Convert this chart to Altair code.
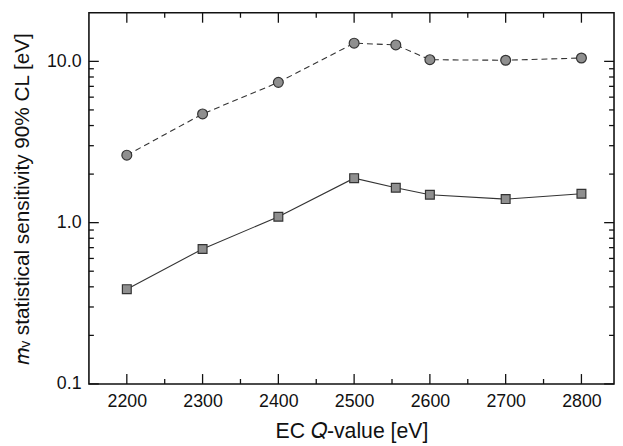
import altair as alt
import pandas as pd

# Data
q_values = [2200, 2300, 2400, 2500, 2555, 2600, 2700, 2800]
circle_series = [2.62, 4.72, 7.41, 12.97, 12.65, 10.24, 10.16, 10.49]
square_series = [0.387, 0.687, 1.088, 1.887, 1.647, 1.49, 1.40, 1.51]

x_major = [2200, 2300, 2400, 2500, 2600, 2700, 2800]
x_minor = [2250, 2350, 2450, 2550, 2650, 2750]
y_major = [0.1, 1.0, 10.0]
y_minor = [0.2, 0.3, 0.4, 0.5, 0.6, 0.7, 0.8, 0.9, 2, 3, 4, 5, 6, 7, 8, 9]

W, H = 532, 376
FONT = "Liberation Sans"
INK = "#333333"

df = pd.DataFrame({"q": q_values, "circ": circle_series, "sq": square_series})
xmaj = pd.DataFrame({"xv": x_major})
xmin = pd.DataFrame({"xv": x_minor})
ymaj = pd.DataFrame({"yv": y_major})
ymin = pd.DataFrame({"yv": y_minor})

xscale = alt.Scale(domain=[2150, 2843], nice=False, zero=False)
yscale = alt.Scale(type="log", domain=[0.1, 20], nice=False)

XT = "EC 𝑄-value [eV]"
YT = "𝑚ᵥ statistical sensitivity 90% CL [eV]"

xaxis = alt.Axis(values=x_major, ticks=False, domain=False, grid=False,
                 labelPadding=9, title=XT, titlePadding=10, format="d",
                 titleFontSize=21.5)
yaxis = alt.Axis(values=y_major, ticks=False, domain=False, grid=False,
                 format=".1f", labelPadding=8, title=YT, titlePadding=14,
                 titleFontSize=21)

X = lambda f: alt.X(f, type="quantitative", scale=xscale, axis=xaxis, title=XT)
Y = lambda f: alt.Y(f, type="quantitative", scale=yscale, axis=yaxis, title=YT)

base = alt.Chart(df)

circ_line = base.mark_line(color=INK, strokeWidth=1.1, strokeDash=[6, 4]).encode(
    x=X("q"), y=Y("circ"))
circ_pts = base.mark_point(shape="circle", filled=True, size=100, fill="#8f8f8f",
                           stroke=INK, strokeWidth=1.2, opacity=1).encode(
    x=X("q"), y=Y("circ"))
sq_line = base.mark_line(color=INK, strokeWidth=1.1).encode(x=X("q"), y=Y("sq"))
sq_pts = base.mark_point(shape="square", filled=True, size=80, fill="#8f8f8f",
                         stroke=INK, strokeWidth=1.2, opacity=1).encode(
    x=X("q"), y=Y("sq"))

tick_style = dict(color="#111111", strokeWidth=1.3)

def xticks(d, length):
    bottom = alt.Chart(d).mark_rule(**tick_style).encode(
        x=X("xv"), y=alt.value(H), y2=alt.value(H - length))
    top = alt.Chart(d).mark_rule(**tick_style).encode(
        x=X("xv"), y=alt.value(0), y2=alt.value(length))
    return [bottom, top]

def yticks(d, length):
    left = alt.Chart(d).mark_rule(**tick_style).encode(
        y=Y("yv"), x=alt.value(0), x2=alt.value(length))
    right = alt.Chart(d).mark_rule(**tick_style).encode(
        y=Y("yv"), x=alt.value(W), x2=alt.value(W - length))
    return [left, right]

layers = (xticks(xmaj, 10) + xticks(xmin, 5) + yticks(ymaj, 10) + yticks(ymin, 5)
          + [circ_line, sq_line, circ_pts, sq_pts])

chart = alt.layer(*layers).properties(
    width=W, height=H,
    background="white",
    autosize=alt.AutoSizeParams(type="none"),
    padding={"left": 82, "top": 2, "right": 1, "bottom": 60},
).configure_view(
    stroke="#111111", strokeWidth=1.6
).configure_axis(
    labelFont=FONT, titleFont=FONT, labelFontSize=18,
    labelColor="#111111", titleColor="#111111", titleFontWeight="normal"
)

chart.save("out.html", embed_options={"renderer": "svg", "actions": False})
